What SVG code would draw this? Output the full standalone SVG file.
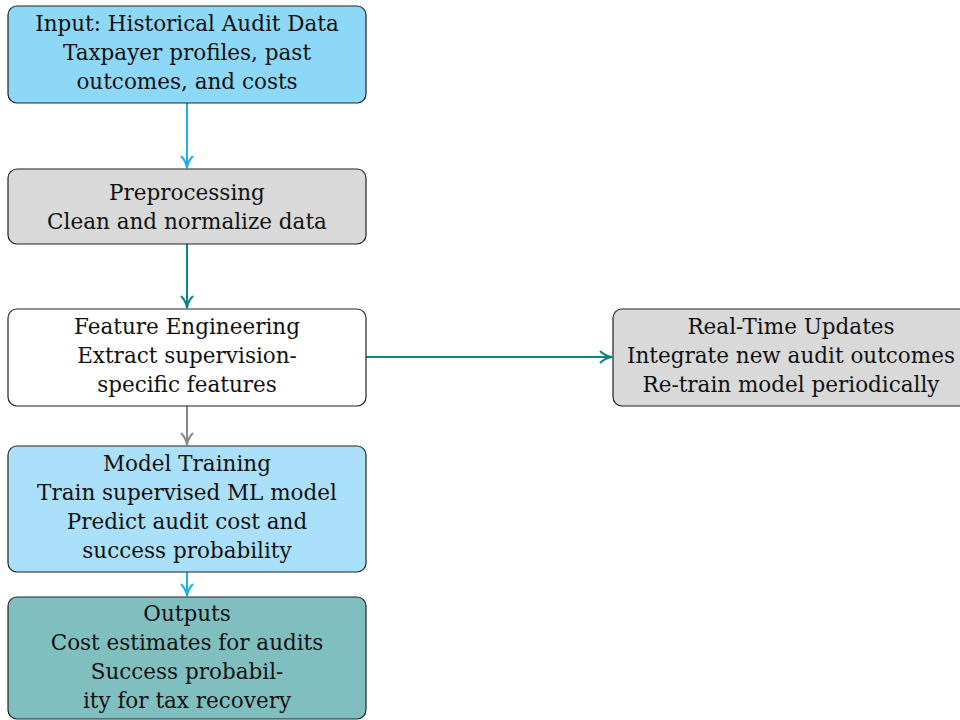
<svg xmlns="http://www.w3.org/2000/svg" width="960" height="720" viewBox="0 0 960 720">
<style>
.box{stroke:#222;stroke-width:1.2}
text{font-family:"DejaVu Serif","Liberation Serif",serif;font-size:21.5px;fill:#111;text-anchor:middle}
.c{fill:none;stroke-width:2}
</style>
<defs>
<marker id="ac" viewBox="0 0 14 14" refX="13" refY="7" markerWidth="14" markerHeight="14" markerUnits="userSpaceOnUse" orient="auto"><path d="M1,1 Q6,6 13,7 Q6,8 1,13" fill="none" stroke="#1cafe8" stroke-width="2"/></marker>
<marker id="at" viewBox="0 0 14 14" refX="13" refY="7" markerWidth="14" markerHeight="14" markerUnits="userSpaceOnUse" orient="auto"><path d="M1,1 Q6,6 13,7 Q6,8 1,13" fill="none" stroke="#0a8585" stroke-width="2"/></marker>
<marker id="ag" viewBox="0 0 14 14" refX="13" refY="7" markerWidth="14" markerHeight="14" markerUnits="userSpaceOnUse" orient="auto"><path d="M1,1 Q6,6 13,7 Q6,8 1,13" fill="none" stroke="#888" stroke-width="2"/></marker>
</defs>
<g id="connectors">
<line class="c" x1="187" y1="103" x2="187" y2="168" stroke="#1cafe8" marker-end="url(#ac)"/>
<line class="c" x1="187" y1="244" x2="187" y2="308" stroke="#0a8585" marker-end="url(#at)"/>
<line class="c" x1="366" y1="357" x2="612" y2="357" stroke="#0a8585" marker-end="url(#at)"/>
<line class="c" x1="187" y1="406" x2="187" y2="445" stroke="#888" marker-end="url(#ag)"/>
<line class="c" x1="187" y1="572" x2="187" y2="596" stroke="#1cafe8" marker-end="url(#ac)"/>
</g>
<g id="input">
<rect class="box" x="8" y="6" width="358" height="97" rx="9" fill="#8dd8f6"/>
<text x="187" y="31">Input: Historical Audit Data</text>
<text x="187" y="60">Taxpayer profiles, past</text>
<text x="187" y="89">outcomes, and costs</text>
</g>
<g id="preprocessing">
<rect class="box" x="8" y="169" width="358" height="75" rx="9" fill="#d9d9d9"/>
<text x="187" y="200">Preprocessing</text>
<text x="187" y="229">Clean and normalize data</text>
</g>
<g id="features">
<rect class="box" x="8" y="309" width="358" height="97" rx="9" fill="#ffffff"/>
<text x="187" y="334">Feature Engineering</text>
<text x="187" y="363">Extract supervision-</text>
<text x="187" y="392">specific features</text>
</g>
<g id="updates">
<rect class="box" x="613" y="309" width="358" height="97" rx="9" fill="#d9d9d9"/>
<text x="791" y="334">Real-Time Updates</text>
<text x="791" y="363">Integrate new audit outcomes</text>
<text x="791" y="392">Re-train model periodically</text>
</g>
<g id="training">
<rect class="box" x="8" y="446" width="358" height="126" rx="9" fill="#aae0f9"/>
<text x="187" y="471">Model Training</text>
<text x="187" y="500">Train supervised ML model</text>
<text x="187" y="529">Predict audit cost and</text>
<text x="187" y="558">success probability</text>
</g>
<g id="outputs">
<rect class="box" x="8" y="597" width="358" height="122" rx="9" fill="#80bfbf"/>
<text x="187" y="621">Outputs</text>
<text x="187" y="650">Cost estimates for audits</text>
<text x="187" y="679">Success probabil-</text>
<text x="187" y="708">ity for tax recovery</text>
</g>
</svg>
